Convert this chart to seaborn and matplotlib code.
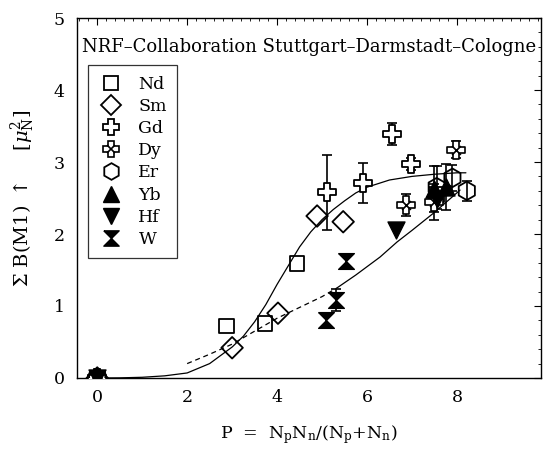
import numpy as np
import pandas as pd
import matplotlib
matplotlib.use("Agg")
import matplotlib.pyplot as plt
import seaborn as sns
from matplotlib.lines import Line2D
from matplotlib.ticker import MultipleLocator

# ---------------- data ----------------
nd_x = [0.0, 2.87, 3.73, 4.44, 7.55]
nd_y = [0.0, 0.72, 0.76, 1.59, 2.55]

sm_x = [0.0, 3.00, 4.02, 4.89, 5.47]
sm_y = [0.0, 0.42, 0.90, 2.25, 2.17]

gd_x = [0.0, 5.10, 5.90, 6.56, 6.98]
gd_y = [0.0, 2.58, 2.71, 3.39, 2.97]
gd_e = [0.0, 0.52, 0.28, 0.15, 0.08]

dy_x = [0.0, 6.87, 7.50, 7.98]
dy_y = [0.0, 2.40, 2.45, 3.17]
dy_e = [0.0, 0.15, 0.25, 0.12]

er_x = [0.0, 7.55, 7.90, 8.22]
er_y = [0.0, 2.65, 2.78, 2.60]
er_e = [0.0, 0.30, 0.18, 0.14]

yb_x = [0.0, 7.50, 7.75]
yb_y = [0.0, 2.62, 2.65]
yb_e = [0.0, 0.32, 0.32]

hf_x = [0.0, 6.64, 7.55]
hf_y = [0.0, 2.05, 2.48]

w_x = [0.0, 5.09, 5.31, 5.53]
w_y = [0.0, 0.80, 1.08, 1.62]
w_e = [0.0, 0.08, 0.15, 0.08]

# upper curve (solid)
up_x = [0, 0.5, 1, 1.5, 2, 2.5, 3, 3.25, 3.5, 3.75, 4, 4.25, 4.5, 4.75, 5,
        5.25, 5.5, 5.75, 6, 6.5, 7, 7.5, 8, 8.2]
up_y = [0, 0.002, 0.01, 0.03, 0.07, 0.2, 0.43, 0.58, 0.78, 1.02, 1.3, 1.56,
        1.82, 2.03, 2.2, 2.34, 2.46, 2.57, 2.65, 2.75, 2.8, 2.83, 2.85, 2.85]

# lower curve: dashed part then solid part
lo_dash_x = [2.0, 2.5, 3.0, 3.5, 4.0, 4.5, 5.0, 5.33]
lo_dash_y = [0.2, 0.33, 0.47, 0.65, 0.83, 0.98, 1.13, 1.25]
lo_sol_x = [5.33, 5.75, 6.29, 6.67, 7.0, 7.5, 8.07]
lo_sol_y = [1.25, 1.43, 1.68, 1.89, 2.05, 2.3, 2.61]

labels = ["Nd", "Sm", "Gd", "Dy", "Er", "Yb", "Hf", "W"]

title_text = "NRF\u2013Collaboration Stuttgart\u2013Darmstadt\u2013Cologne"

# ---------------- style ----------------
sns.set_theme(style="white")
plt.rcParams["font.family"] = ["DejaVu Serif"]
plt.rcParams["mathtext.fontset"] = "dejavuserif"
plt.rcParams["text.color"] = "black"
plt.rcParams["axes.labelcolor"] = "black"
plt.rcParams["xtick.color"] = "black"
plt.rcParams["ytick.color"] = "black"

fig = plt.figure(figsize=(5.45, 4.49), dpi=100)
ax = fig.add_axes([77 / 545, 1 - 378 / 449, 464 / 545, 360 / 449])

# curves
sns.lineplot(x=up_x, y=up_y, ax=ax, color="black", lw=0.9, sort=False)
sns.lineplot(x=lo_dash_x, y=lo_dash_y, ax=ax, color="black", lw=0.9,
             sort=False, linestyle=(0, (4, 3)))
sns.lineplot(x=lo_sol_x, y=lo_sol_y, ax=ax, color="black", lw=0.9, sort=False)

hourglass = [(-1, 1), (1, 1), (0, 0), (1, -1), (-1, -1), (0, 0), (-1, 1)]

def errs(x, y, e):
    ax.errorbar(x, y, yerr=e, fmt="none", ecolor="black", elinewidth=1.2,
                capsize=3.5, capthick=1.2, zorder=3)

errs(gd_x, gd_y, gd_e)
errs(dy_x, dy_y, dy_e)
errs(er_x, er_y, er_e)
errs(yb_x, yb_y, yb_e)
errs(w_x, w_y, w_e)

common = dict(ax=ax, zorder=4, legend=False)
sns.scatterplot(x=nd_x, y=nd_y, marker="s", s=110, facecolor="none",
                edgecolor="black", linewidth=1.3, **common)
sns.scatterplot(x=sm_x, y=sm_y, marker="D", s=120, facecolor="none",
                edgecolor="black", linewidth=1.3, **common)
sns.scatterplot(x=gd_x, y=gd_y, marker="P", s=170, facecolor="white",
                edgecolor="black", linewidth=1.3, **common)
sns.scatterplot(x=dy_x, y=dy_y, marker="P", s=150, facecolor="white",
                edgecolor="black", linewidth=1.2, **common)
sns.scatterplot(x=dy_x, y=dy_y, marker="x", s=40, color="black",
                linewidth=1.2, ax=ax, zorder=5, legend=False)
sns.scatterplot(x=er_x, y=er_y, marker="h", s=180, facecolor="none",
                edgecolor="black", linewidth=1.3, **common)
sns.scatterplot(x=yb_x, y=yb_y, marker="^", s=150, color="black",
                edgecolor="black", **common)
sns.scatterplot(x=hf_x, y=hf_y, marker="v", s=150, color="black",
                edgecolor="black", **common)
sns.scatterplot(x=w_x, y=w_y, marker=hourglass, s=130, color="black",
                edgecolor="black", **common)

# axes
ax.set_xlim(-0.45, 9.87)
ax.set_ylim(0, 5)
ax.xaxis.set_major_locator(MultipleLocator(2))
ax.xaxis.set_minor_locator(MultipleLocator(0.2))
ax.yaxis.set_major_locator(MultipleLocator(1))
ax.yaxis.set_minor_locator(MultipleLocator(0.2))
ax.set_xticks([0, 2, 4, 6, 8])
ax.tick_params(which="both", direction="in", top=True, right=True,
               colors="black", labelsize=12.5)
ax.tick_params(which="major", length=5, width=0.8)
ax.tick_params(which="minor", length=2.5, width=0.6)
ax.tick_params(axis="x", pad=8)
ax.tick_params(axis="y", pad=9)
for sp in ax.spines.values():
    sp.set_color("black")
    sp.set_linewidth(1.0)

ax.set_xlabel(r"P  =  N$_{\rm p}$N$_{\rm n}$/(N$_{\rm p}$+N$_{\rm n}$)",
              fontsize=12.5, labelpad=12)
ax.set_ylabel(r"$\Sigma$ B(M1) $\uparrow$    [$\mu_{\rm N}^{2}$]",
              fontsize=14, labelpad=12)

ax.text(0.5, 0.92, title_text, transform=ax.transAxes, ha="center",
        va="center", fontsize=13)

# legend
handles = [
    Line2D([], [], ls="none", marker="s", ms=10, mfc="none", mec="black", mew=1.3),
    Line2D([], [], ls="none", marker="D", ms=10, mfc="none", mec="black", mew=1.3),
    Line2D([], [], ls="none", marker="P", ms=12, mfc="white", mec="black", mew=1.3),
    (Line2D([], [], ls="none", marker="P", ms=12, mfc="white", mec="black", mew=1.2),
     Line2D([], [], ls="none", marker="x", ms=6, mec="black", mew=1.2)),
    Line2D([], [], ls="none", marker="h", ms=12, mfc="none", mec="black", mew=1.3),
    Line2D([], [], ls="none", marker="^", ms=12, mfc="black", mec="black"),
    Line2D([], [], ls="none", marker="v", ms=12, mfc="black", mec="black"),
    Line2D([], [], ls="none", marker=hourglass, ms=11, mfc="black", mec="black"),
]
leg = ax.legend(handles, labels, loc="upper left",
                bbox_to_anchor=(0.024, 0.869), borderaxespad=0,
                frameon=True, fancybox=False,
                edgecolor="black", fontsize=12.5, labelspacing=0.3,
                handletextpad=0.9, borderpad=0.6, handlelength=1.4)
leg.get_frame().set_linewidth(0.9)

fig.savefig("out.png", dpi=100)
